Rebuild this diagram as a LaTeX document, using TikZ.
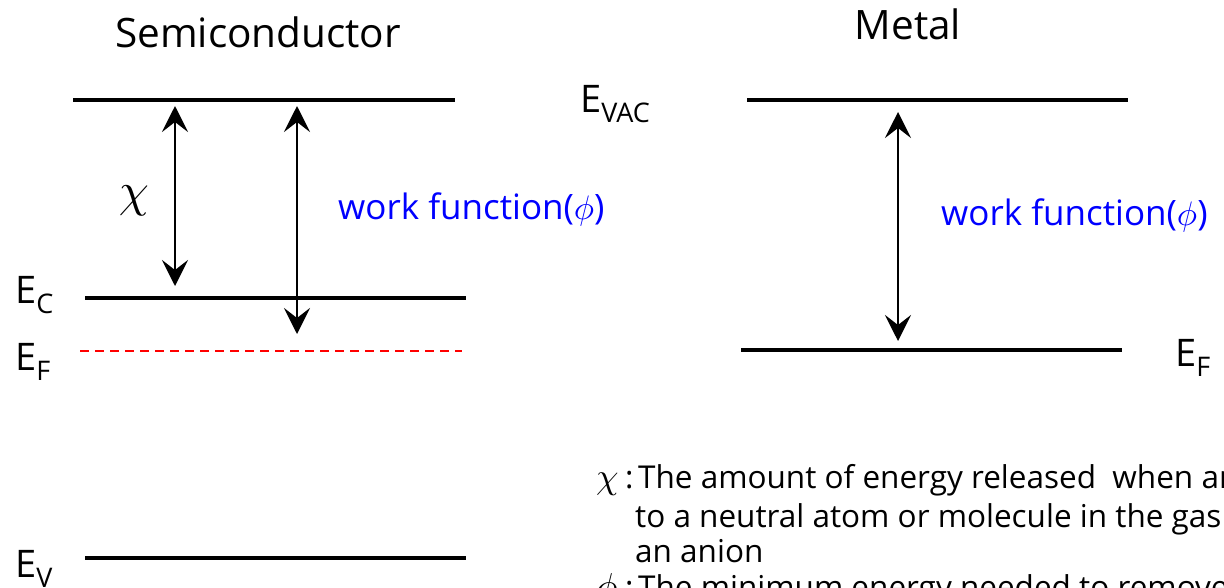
\documentclass[tikz,border=0pt]{standalone}
\usepackage{fontspec}
\setmainfont{Open Sans}
\usetikzlibrary{arrows.meta}
\definecolor{wfblue}{RGB}{0,0,255}
\definecolor{efred}{RGB}{255,0,0}
\newcommand{\Elab}[1]{{\fontsize{38}{40}\selectfont E\raisebox{-10pt}{\fontsize{27}{28}\selectfont #1}}}
\newcommand{\bigsym}[2]{\scalebox{#1}{\fontsize{10}{12}\selectfont$#2$}}
\tikzset{
  level/.style={line width=4.5pt},
  fermi/.style={line width=1.8pt, draw=efred, dash pattern=on 9pt off 6pt},
  gap/.style={line width=2.6pt, {Stealth[length=26pt,width=26pt,inset=10pt]}-{Stealth[length=26pt,width=26pt,inset=10pt]}},
  lab/.style={inner sep=0pt, anchor=base west},
  title/.style={inner sep=0pt, anchor=base, font=\fontsize{40.5}{44}\selectfont},
  wf/.style={inner sep=0pt, anchor=base west, text=wfblue, font=\fontsize{35}{40}\selectfont},
  note/.style={inner sep=0pt, anchor=base west, font=\fontsize{31.5}{34}\selectfont}
}
\begin{document}
\begin{tikzpicture}[x=1pt,y=-1pt]
\useasboundingbox (0,0) rectangle (1224,587);
\clip (0,0) rectangle (1224,587);

% titles
\node[title] (tsc) at (258,47) {Semiconductor};
\node[title] (tm) at (908,39) {Metal};

% semiconductor levels
\coordinate (vacL) at (73,100);  \coordinate (vacR) at (455,100);
\coordinate (ecL) at (85,298);   \coordinate (ecR) at (466,298);
\coordinate (efL) at (80,351);   \coordinate (efR) at (462,351);
\coordinate (evL) at (85,558);   \coordinate (evR) at (466,558);
\draw[level] (vacL) -- (vacR);
\draw[level] (ecL) -- (ecR);
\draw[fermi] (efL) -- (efR);
\draw[level] (evL) -- (evR);

% metal levels
\coordinate (mvacL) at (747,100); \coordinate (mvacR) at (1128,100);
\coordinate (mefL) at (741,350);  \coordinate (mefR) at (1122,350);
\draw[level] (mvacL) -- (mvacR);
\draw[level] (mefL) -- (mefR);

% level labels
\node[lab] (lvac) at (580,112) {\Elab{VAC}};
\node[lab] (lec) at (15,303) {\Elab{C}};
\node[lab] (lef) at (15,370) {\Elab{F}};
\node[lab] (lev) at (15,577) {\Elab{V}};
\node[lab] (lmef) at (1175,366) {\Elab{F}};

% arrows
\coordinate (chiT) at (175,106); \coordinate (chiB) at (175,286);
\coordinate (phiT) at (297,106); \coordinate (phiB) at (297,334);
\coordinate (mphiT) at (898,112); \coordinate (mphiB) at (898,341);
\draw[gap] (chiT) -- (chiB);
\draw[gap] (phiT) -- (phiB);
\draw[gap] (mphiT) -- (mphiB);

% arrow labels
\node[inner sep=0pt] (chil) at (134,201) {\bigsym{4.8}{\chi}};
\node[wf] (wfs) at (338,219) {work function(\bigsym{3.4}{\phi})};
\node[wf] (wfm) at (941,225) {work function(\bigsym{3.4}{\phi})};

% notes
\node[note] (n1a) at (596,488) {\bigsym{3.6}{\chi}};
\node[note] (n1c) at (625,488) {:};
\node[note] (n1) at (638,488) {The amount of energy released\ \ when an};
\node[note] (n2) at (635,527) {to a neutral atom or molecule in the gas};
\node[note] (n3) at (635,562) {an anion};
\node[note] (n4a) at (596,598) {\bigsym{3.6}{\phi}};
\node[note] (n4c) at (625,598) {:};
\node[note] (n4) at (638,598) {The minimum energy needed to remove};
\end{tikzpicture}
\end{document}
